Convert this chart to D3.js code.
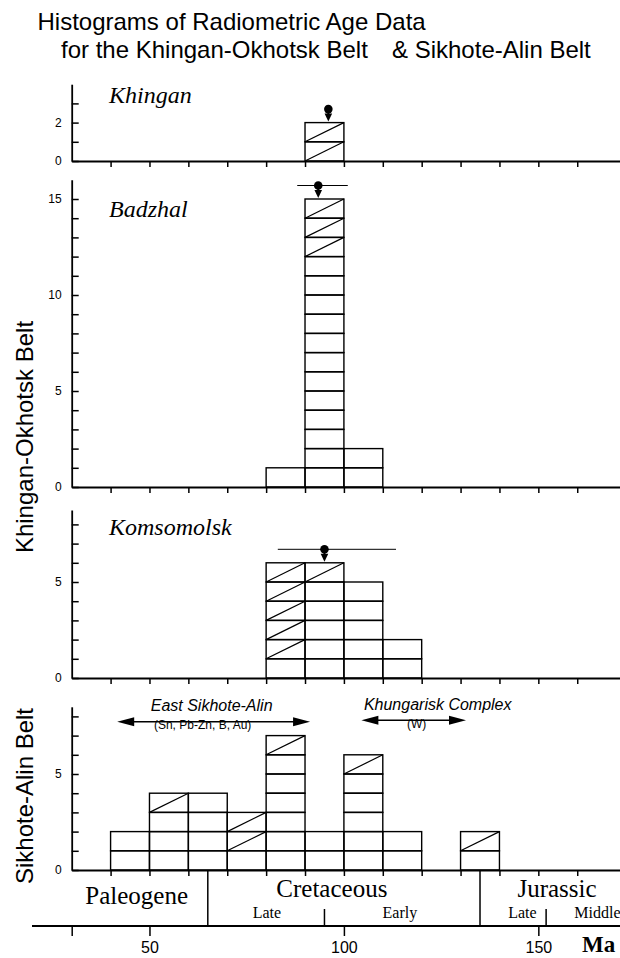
<!DOCTYPE html>
<html>
<head>
<meta charset="utf-8">
<script src="https://cdn.jsdelivr.net/npm/d3@7"></script>
<style>
  body { margin: 0; background: #fff; }
  svg { display: block; }
  .sans { font-family: "Liberation Sans", Arial, Helvetica, sans-serif; }
  .serif { font-family: "Liberation Serif", "Times New Roman", serif; }
</style>
</head>
<body>
<div id="chart"></div>
<script>
// histogram bins are 10 Ma wide, each value is the start of a bin
var khinganBins = [90];
var khinganCounts = [2];
var khinganHatch = [[1, 2]];

var badzhalBins = [80, 90, 100];
var badzhalCounts = [1, 15, 2];
var badzhalHatch = [[], [13, 14, 15], []];

var komsomolskBins = [80, 90, 100, 110];
var komsomolskCounts = [6, 6, 5, 2];
var komsomolskHatch = [[2, 3, 4, 5, 6], [6], [], []];

var sikhoteBins = [40, 50, 60, 70, 80, 90, 100, 110, 130];
var sikhoteCounts = [2, 4, 4, 3, 7, 2, 6, 2, 2];
var sikhoteHatch = [[], [4], [], [2, 3], [7], [], [6], [], [2]];

// mean age with range: [age, low, high]
var khinganMean = [96, null, null];
var badzhalMean = [93.4, 88, 101];
var komsomolskMean = [95, 83, 113.4];

// age ranges of the two ore groups in the Sikhote-Alin panel
var oreGroups = ["East Sikhote-Alin", "Khungarisk Complex"];
var oreMetals = ["(Sn, Pb-Zn, B, Au)", "(W)"];
var oreRanges = [[41.7, 91.3], [104.5, 131.4]];

var panelTicks = [40, 50, 60, 70, 80, 90, 100, 110, 120, 130, 140, 150, 160];
var bottomTicks = [30, 50, 100, 150];
var bottomLabels = ["", "50", "100", "150"];

var periods = ["Paleogene", "Cretaceous", "Jurassic"];
var periodBounds = [65, 135];
var epochs = ["Late", "Early", "Late", "Middle"];
var epochBounds = [95, 152];

// layout
var width = 620, height = 958;
var unit = 19.2;

var svg = d3.select("#chart").append("svg")
  .attr("width", width)
  .attr("height", height);

var x = d3.scaleLinear()
  .domain([30, 171])
  .range([71.7, 620]);

var panels = [
  {name: "Khingan", base: 161, max: 4.0, ticks: [0, 1, 2, 3], labels: [0, 2],
   bins: khinganBins, counts: khinganCounts, hatch: khinganHatch, mean: khinganMean, labelY: 103},
  {name: "Badzhal", base: 487, max: 16.0, ticks: d3.range(0, 16), labels: [0, 5, 10, 15],
   bins: badzhalBins, counts: badzhalCounts, hatch: badzhalHatch, mean: badzhalMean, labelY: 217},
  {name: "Komsomolsk", base: 678, max: 8.75, ticks: d3.range(0, 9), labels: [0, 5],
   bins: komsomolskBins, counts: komsomolskCounts, hatch: komsomolskHatch, mean: komsomolskMean, labelY: 535},
  {name: null, base: 870, max: 8.5, ticks: d3.range(0, 9), labels: [0, 5],
   bins: sikhoteBins, counts: sikhoteCounts, hatch: sikhoteHatch, mean: null, labelY: 0}
];

// title
svg.append("text").attr("class", "sans")
  .attr("x", 37.5).attr("y", 30)
  .attr("font-size", 24)
  .text("Histograms of Radiometric Age Data");
svg.append("text").attr("class", "sans")
  .attr("x", 61).attr("y", 58)
  .attr("font-size", 24)
  .text("for the Khingan-Okhotsk Belt");
svg.append("text").attr("class", "sans")
  .attr("x", 392).attr("y", 58)
  .attr("font-size", 24)
  .text("& Sikhote-Alin Belt");

panels.forEach(function(p) {
  var y = d3.scaleLinear()
    .domain([0, p.max])
    .range([p.base, p.base - p.max * unit]);

  var g = svg.append("g");

  // bars, one box per dated sample
  p.bins.forEach(function(b, i) {
    var cells = d3.range(1, p.counts[i] + 1);
    g.selectAll(null)
      .data(cells)
      .enter()
      .append("rect")
      .attr("x", x(b))
      .attr("y", d => y(d))
      .attr("width", x(b + 10) - x(b))
      .attr("height", d => y(d - 1) - y(d))
      .attr("fill", "none")
      .attr("stroke", "#000")
      .attr("stroke-width", 1.4);

    g.selectAll(null)
      .data(p.hatch[i])
      .enter()
      .append("line")
      .attr("x1", x(b))
      .attr("y1", d => y(d - 1))
      .attr("x2", x(b + 10))
      .attr("y2", d => y(d))
      .attr("stroke", "#000")
      .attr("stroke-width", 1.2);
  });

  // x axis of the panel
  var xAxis = d3.axisBottom(x)
    .tickValues(panelTicks)
    .tickSizeInner(6)
    .tickSizeOuter(0)
    .tickFormat("");
  g.append("g")
    .attr("transform", `translate(0, ${p.base})`)
    .call(xAxis)
    .call(a => a.select(".domain").attr("stroke-width", 1.8))
    .call(a => a.selectAll(".tick line").attr("stroke-width", 1.5));

  // y axis, ticks point inward
  var yAxis = d3.axisLeft(y)
    .tickValues(p.ticks)
    .tickSizeInner(-7)
    .tickSizeOuter(0)
    .tickPadding(10)
    .tickFormat(d => p.labels.indexOf(d) >= 0 ? d : "");
  g.append("g")
    .attr("transform", `translate(${x(30)}, 0)`)
    .call(yAxis)
    .call(a => a.select(".domain").attr("stroke-width", 1.8))
    .call(a => a.selectAll(".tick line").attr("stroke-width", 1.5))
    .call(a => a.selectAll("text")
      .attr("class", "sans")
      .attr("font-size", 12)
      .attr("fill", "#000"));

  if (p.name) {
    g.append("text")
      .attr("class", "serif")
      .attr("x", 109)
      .attr("y", p.labelY)
      .attr("font-size", 24)
      .attr("font-style", "italic")
      .text(p.name);
  }

  // mean age marker: dot, arrow and range bar
  if (p.mean) {
    var age = p.mean[0];
    var k = p.bins.findIndex(b => age >= b && age < b + 10);
    var top = y(p.counts[k]);
    var cx = x(age);
    var cy = top - 13.5;
    if (p.mean[1] != null) {
      g.append("line")
        .attr("x1", x(p.mean[1])).attr("x2", x(p.mean[2]))
        .attr("y1", cy).attr("y2", cy)
        .attr("stroke", "#000").attr("stroke-width", 1);
    }
    g.append("line")
      .attr("x1", cx).attr("x2", cx)
      .attr("y1", cy).attr("y2", top - 6)
      .attr("stroke", "#000").attr("stroke-width", 2);
    g.append("path")
      .attr("d", `M${cx - 3.8},${top - 9}L${cx + 3.8},${top - 9}L${cx},${top - 1}Z`)
      .attr("fill", "#000");
    g.append("circle")
      .attr("cx", cx).attr("cy", cy).attr("r", 4.3)
      .attr("fill", "#000");
  }

  p.y = y;
});

// ore group arrows in the Sikhote-Alin panel
var ys = panels[3].y;
var arrowY = [7.72, 7.8];
oreGroups.forEach(function(name, i) {
  var x1 = x(oreRanges[i][0]), x2 = x(oreRanges[i][1]);
  var yy = ys(arrowY[i]);
  var cxm = (x1 + x2) / 2;
  svg.append("line")
    .attr("x1", x1 + 8).attr("x2", x2 - 8)
    .attr("y1", yy).attr("y2", yy)
    .attr("stroke", "#000").attr("stroke-width", 1.4);
  svg.append("path")
    .attr("d", `M${x1},${yy}L${x1 + 17},${yy - 4.5}L${x1 + 17},${yy + 4.5}Z`)
    .attr("fill", "#000");
  svg.append("path")
    .attr("d", `M${x2},${yy}L${x2 - 17},${yy - 4.5}L${x2 - 17},${yy + 4.5}Z`)
    .attr("fill", "#000");
  svg.append("text")
    .attr("class", "sans")
    .attr("x", cxm + (i == 0 ? -2 : 24))
    .attr("y", yy - 10.5)
    .attr("text-anchor", "middle")
    .attr("font-size", 16)
    .attr("font-style", "italic")
    .text(name);
  svg.append("text")
    .attr("class", "sans")
    .attr("x", cxm + (i == 0 ? -11 : 3))
    .attr("y", yy + 7.5)
    .attr("text-anchor", "middle")
    .attr("font-size", 12)
    .text(oreMetals[i]);
});

// y axis titles
svg.append("text")
  .attr("class", "sans")
  .attr("transform", "translate(33, 437) rotate(-90)")
  .attr("text-anchor", "middle")
  .attr("font-size", 24)
  .text("Khingan-Okhotsk Belt");
svg.append("text")
  .attr("class", "sans")
  .attr("transform", "translate(33, 796) rotate(-90)")
  .attr("text-anchor", "middle")
  .attr("font-size", 24)
  .text("Sikhote-Alin Belt");

// geological time scale under the last panel
var tsTop = 870, tsBottom = 926;
var ts = svg.append("g");

ts.append("line")
  .attr("x1", 32).attr("x2", width)
  .attr("y1", tsBottom).attr("y2", tsBottom)
  .attr("stroke", "#000").attr("stroke-width", 1.8);

ts.selectAll(".period-line")
  .data(periodBounds)
  .enter()
  .append("line")
  .attr("x1", d => x(d)).attr("x2", d => x(d))
  .attr("y1", tsTop).attr("y2", tsBottom)
  .attr("stroke", "#000").attr("stroke-width", 1.5);

ts.selectAll(".epoch-line")
  .data(epochBounds)
  .enter()
  .append("line")
  .attr("x1", d => x(d)).attr("x2", d => x(d))
  .attr("y1", 909).attr("y2", tsBottom)
  .attr("stroke", "#000").attr("stroke-width", 1.5);

var periodAt = [46.7, 96.9, 154.8];
var periodBase = [904, 897, 897];
ts.selectAll(".period")
  .data(periods)
  .enter()
  .append("text")
  .attr("class", "serif")
  .attr("x", (d, i) => x(periodAt[i]))
  .attr("y", (d, i) => periodBase[i])
  .attr("text-anchor", "middle")
  .attr("font-size", 25)
  .text(d => d);

var epochAt = [80.2, 114.4, 145.9, 165.2];
ts.selectAll(".epoch")
  .data(epochs)
  .enter()
  .append("text")
  .attr("class", "serif")
  .attr("x", (d, i) => x(epochAt[i]))
  .attr("y", 918)
  .attr("text-anchor", "middle")
  .attr("font-size", 16)
  .text(d => d);

var bottomAxis = d3.axisBottom(x)
  .tickValues(bottomTicks)
  .tickSizeInner(10)
  .tickSizeOuter(0)
  .tickPadding(6)
  .tickFormat((d, i) => bottomLabels[i]);
ts.append("g")
  .attr("transform", `translate(0, ${tsBottom})`)
  .call(bottomAxis)
  .call(a => a.select(".domain").remove())
  .call(a => a.selectAll(".tick line").attr("stroke-width", 1.5))
  .call(a => a.selectAll("text")
    .attr("class", "sans")
    .attr("font-size", 16)
    .attr("fill", "#000"));

ts.append("text")
  .attr("class", "serif")
  .attr("x", 582)
  .attr("y", 952)
  .attr("font-size", 23)
  .attr("font-weight", "bold")
  .text("Ma");
</script>
</body>
</html>
